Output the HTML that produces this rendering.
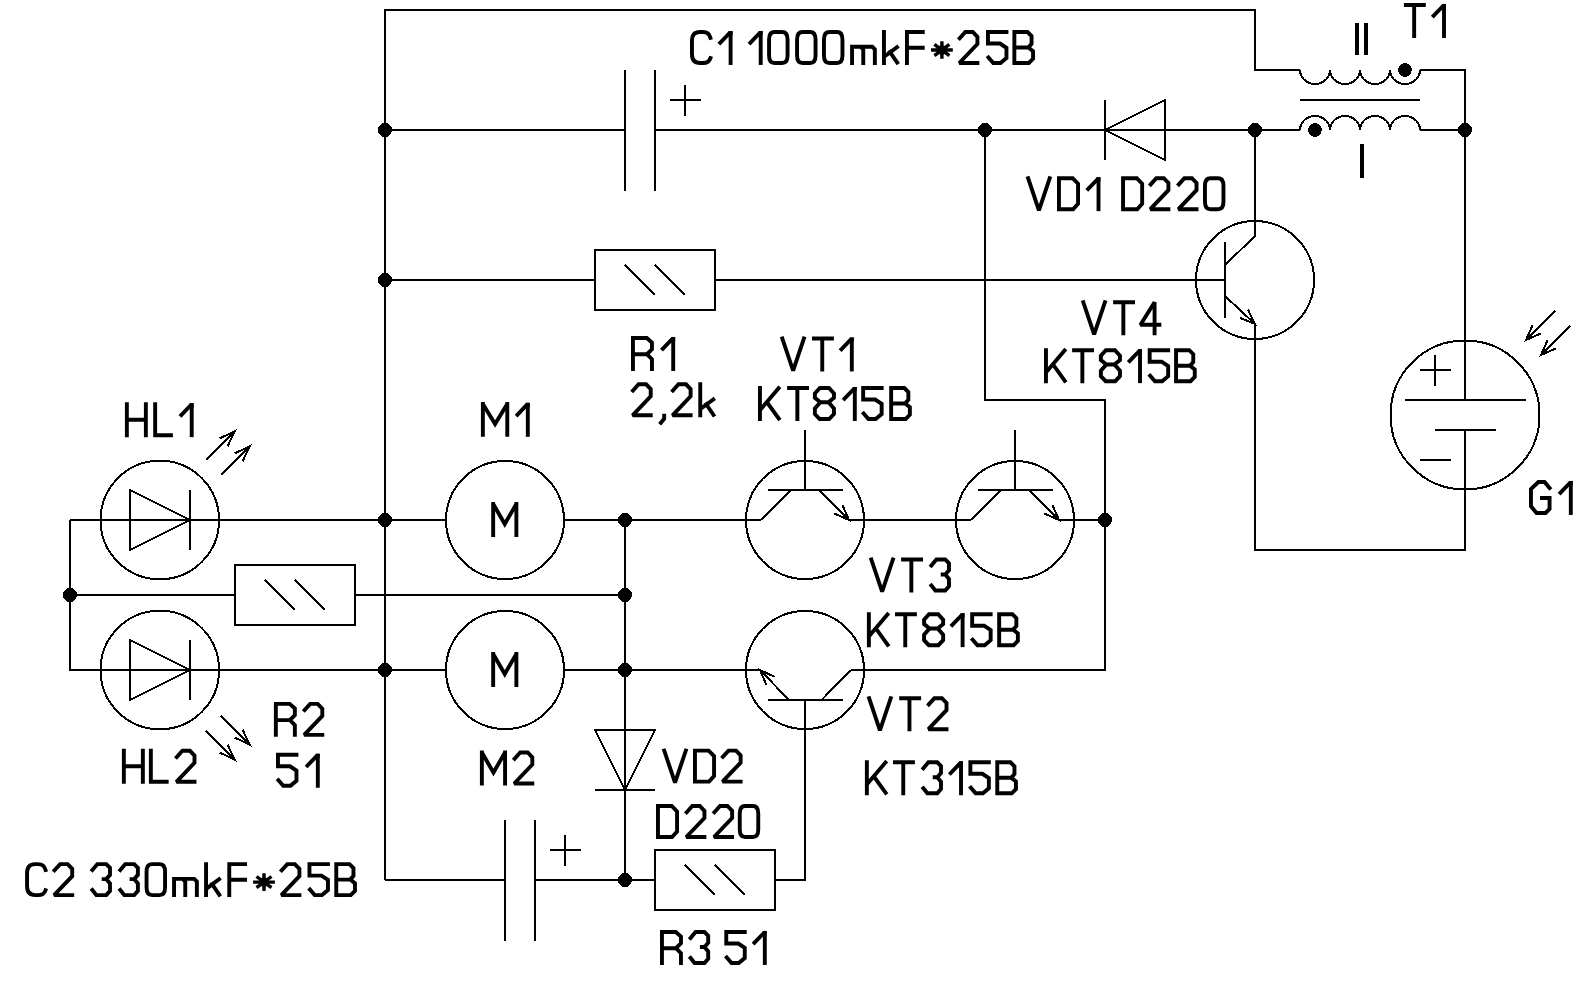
<!DOCTYPE html>
<html><head><meta charset="utf-8"><style>
html,body{margin:0;padding:0;background:#fff;width:1595px;height:983px;overflow:hidden;font-family:"Liberation Sans",sans-serif;}
svg{display:block;}
</style></head><body>
<svg width="1595" height="983" viewBox="0 0 1595 983">
<rect x="0" y="0" width="1595" height="983" fill="#fff"/>
<g fill="none" stroke="#000" stroke-width="2" stroke-linecap="butt" stroke-linejoin="miter" shape-rendering="crispEdges">
<path d="M385,880 L385,10 L1255,10 L1255,70 L1300,70"/>
<path d="M1420,70 L1465,70 L1465,400"/>
<path d="M1465,430 L1465,550 L1255,550 L1255,324"/>
<path d="M385,130 L625,130"/>
<path d="M655,130 L1300,130"/>
<path d="M1420,130 L1465,130"/>
<path d="M1255,130 L1255,236 L1225,265"/>
<path d="M1225,296 L1255,324"/>
<path d="M385,280 L595,280"/>
<path d="M715,280 L1225,280"/>
<path d="M985,130 L985,400 L1105,400 L1105,670 L851,670"/>
<path d="M70,520 L446,520"/>
<path d="M564,520 L761,520"/>
<path d="M849,520 L971,520"/>
<path d="M1059,520 L1105,520"/>
<path d="M70,520 L70,670 L446,670"/>
<path d="M70,595 L235,595"/>
<path d="M355,595 L625,595"/>
<path d="M564,670 L760,670"/>
<path d="M625,520 L625,880"/>
<path d="M385,880 L505,880"/>
<path d="M535,880 L655,880"/>
<path d="M775,880 L805,880 L805,700"/>
<path d="M625,70 L625,191"/>
<path d="M655,70 L655,191"/>
<path d="M670,100 L701,100"/>
<path d="M685,85 L685,116"/>
<path d="M505,820 L505,941"/>
<path d="M535,820 L535,941"/>
<path d="M550,850 L581,850"/>
<path d="M565,835 L565,866"/>
<path d="M1105,100 L1105,160"/>
<path d="M1105,130 L1165,100 L1165,160 Z"/>
<path d="M595,730 L655,730 L625,790 Z"/>
<path d="M595,790 L655,790"/>
<rect x="595" y="250" width="120" height="60"/>
<path d="M625.0,265.0 L655.0,295.0"/>
<path d="M655.0,265.0 L685.0,295.0"/>
<rect x="235" y="565" width="120" height="60"/>
<path d="M265.0,580.0 L295.0,610.0"/>
<path d="M295.0,580.0 L325.0,610.0"/>
<rect x="655" y="850" width="120" height="60"/>
<path d="M685.0,865.0 L715.0,895.0"/>
<path d="M715.0,865.0 L745.0,895.0"/>
<circle cx="159.8" cy="520" r="59.3"/>
<path d="M130,490 L190,520 L130,550 Z"/>
<path d="M190,490 L190,550"/>
<circle cx="159.8" cy="670" r="59.3"/>
<path d="M130,640 L190,670 L130,700 Z"/>
<path d="M190,640 L190,700"/>
<path d="M206,460 L235,431"/>
<path d="M227.55,446.28 L235,431 L219.72,438.45"/>
<path d="M221,475 L250,446"/>
<path d="M242.55,461.28 L250,446 L234.72,453.45"/>
<path d="M221,716 L250,745"/>
<path d="M234.72,737.55 L250,745 L242.55,729.72"/>
<path d="M206,731 L235,760"/>
<path d="M219.72,752.55 L235,760 L227.55,744.72"/>
<circle cx="505" cy="520" r="59"/>
<circle cx="505" cy="670" r="59"/>
<circle cx="805" cy="520" r="59"/>
<path d="M805,430 L805,490"/>
<path d="M767.5,490 L842.5,490"/>
<path d="M791,490 L761,520"/>
<path d="M819,490 L849,520"/>
<path d="M834.38,513.49 L849,520 L842.49,505.38"/>
<circle cx="1015" cy="520" r="59"/>
<path d="M1015,430 L1015,490"/>
<path d="M977.5,490 L1052.5,490"/>
<path d="M1001,490 L971,520"/>
<path d="M1029,490 L1059,520"/>
<path d="M1044.38,513.49 L1059,520 L1052.49,505.38"/>
<circle cx="805" cy="670" r="59"/>
<path d="M767.5,700 L842.5,700"/>
<path d="M789,700 L760,670"/>
<path d="M821.5,700 L851,670"/>
<path d="M774.50,676.75 L760,670 L766.26,684.72"/>
<circle cx="1255" cy="280" r="59"/>
<path d="M1225,242 L1225,318"/>
<path d="M1240.17,318.00 L1255,324 L1247.99,309.62"/>
<circle cx="1465" cy="415" r="74.5"/>
<path d="M1405,400 L1526,400"/>
<path d="M1435,430 L1496,430"/>
<path d="M1420,370 L1451,370"/>
<path d="M1435,355 L1435,386"/>
<path d="M1420,460 L1451,460"/>
<path d="M1555,311 L1526,340"/>
<path d="M1532.51,325.38 L1526,340 L1540.62,333.49"/>
<path d="M1570,326 L1541,355"/>
<path d="M1547.51,340.38 L1541,355 L1555.62,348.49"/>
<path d="M1300,70 A15.0,14 0 0 0 1330,70 A15.0,14 0 0 0 1360,70 A15.0,14 0 0 0 1390,70 A15.0,14 0 0 0 1420,70"/>
<path d="M1300,130 A15.0,14 0 0 1 1330,130 A15.0,14 0 0 1 1360,130 A15.0,14 0 0 1 1390,130 A15.0,14 0 0 1 1420,130"/>
<path d="M1300,100 L1420,100"/>
<circle cx="1405" cy="70" r="6.8" fill="#000" stroke="none"/>
<circle cx="1315" cy="130" r="6.8" fill="#000" stroke="none"/>
<path d="M1357,22.6 L1357,55.3 M1366,22.6 L1366,55.3" stroke-width="3.9"/>
<path d="M1362,144.4 L1362,177.6" stroke-width="3.9"/>
<circle cx="385" cy="130" r="7" fill="#000" stroke="none"/>
<circle cx="985" cy="130" r="7" fill="#000" stroke="none"/>
<circle cx="1255" cy="130" r="7" fill="#000" stroke="none"/>
<circle cx="1465" cy="130" r="7" fill="#000" stroke="none"/>
<circle cx="385" cy="280" r="7" fill="#000" stroke="none"/>
<circle cx="385" cy="520" r="7" fill="#000" stroke="none"/>
<circle cx="625" cy="520" r="7" fill="#000" stroke="none"/>
<circle cx="1105" cy="520" r="7" fill="#000" stroke="none"/>
<circle cx="70" cy="595" r="7" fill="#000" stroke="none"/>
<circle cx="625" cy="595" r="7" fill="#000" stroke="none"/>
<circle cx="385" cy="670" r="7" fill="#000" stroke="none"/>
<circle cx="625" cy="670" r="7" fill="#000" stroke="none"/>
<circle cx="625" cy="880" r="7" fill="#000" stroke="none"/>
</g>
<g fill="none" stroke="#000" stroke-width="3.9" stroke-linecap="square" stroke-linejoin="miter" stroke-miterlimit="2">
<g transform="translate(691.96,32.00)"><path d="M18.5,5.9 Q17,0 11,0 L8,0 Q0,0 0,9 L0,22 Q0,31 8,31 L11,31 Q17,31 18.5,26.1"/></g>
<g transform="translate(718.41,32.00)"><path d="M12.2,31 L12.2,0.9"/><path d="M-0.91,10.85 L10.49,-1.05 L14.15,-1.05 L14.15,3 L10.25,4.85 L1.91,13.55 Z" fill="#000" stroke="none"/></g>
<g transform="translate(748.51,32.00)"><path d="M12.2,31 L12.2,0.9"/><path d="M-0.91,10.85 L10.49,-1.05 L14.15,-1.05 L14.15,3 L10.25,4.85 L1.91,13.55 Z" fill="#000" stroke="none"/></g>
<g transform="translate(769.06,32.00)"><path d="M5.5,0 L13,0 Q18.5,0 18.5,7.5 L18.5,23.5 Q18.5,31 13,31 L5.5,31 Q0,31 0,23.5 L0,7.5 Q0,0 5.5,0 Z"/></g>
<g transform="translate(797.06,32.00)"><path d="M5.5,0 L13,0 Q18.5,0 18.5,7.5 L18.5,23.5 Q18.5,31 13,31 L5.5,31 Q0,31 0,23.5 L0,7.5 Q0,0 5.5,0 Z"/></g>
<g transform="translate(823.96,32.00)"><path d="M5.5,0 L13,0 Q18.5,0 18.5,7.5 L18.5,23.5 Q18.5,31 13,31 L5.5,31 Q0,31 0,23.5 L0,7.5 Q0,0 5.5,0 Z"/></g>
<g transform="translate(852.06,32.00)"><path d="M0,31 L0,14.8 L8.6,14.8 L11.2,17.4 L11.2,31 M11.2,17.4 L11.2,14.8 L20.2,14.8 L22.8,17.4 L22.8,31"/></g>
<g transform="translate(883.96,32.00)"><path d="M0,0 L0,31 M13,15.2 L1.2,24 M6,20 L13.2,30.6"/></g>
<g transform="translate(906.96,32.00)"><path d="M15.8,0 L0,0 L0,31 M0,15.7 L15.8,15.7"/></g>
<g transform="translate(941.90,50.00)"><path d="M0,-8.85 L0,8.85 M-10.9,0 L10.9,0 M-7.5,-5.6 L7.5,5.6 M7.5,-5.6 L-7.5,5.6" stroke-width="3.4" stroke-linecap="butt"/><circle cx="0" cy="0" r="4.8" fill="#000" stroke="none"/></g>
<g transform="translate(959.31,32.00)"><path d="M0.4,6.2 L6,0 L13.5,0 L18.1,4.8 L18.1,12 L0,31 L18.1,31"/></g>
<g transform="translate(987.96,32.00)"><path d="M18.5,0 L0,0 L0,11.5 L12,11.5 L18.5,15.8 L18.5,26 L12.5,31 L5.3,31 L0.5,25.5"/></g>
<g transform="translate(1014.36,32.00)"><path d="M0,31 L0,0 L13.2,0 L17.2,4 L17.2,11.8 L14,15.5 L0,15.5 M14,15.5 L18.7,19.2 L18.7,26.8 L14.5,31 L0,31"/></g>
<g transform="translate(1405.86,5.00)"><path d="M0,0 L18,0 M8.3,0 L8.3,31"/></g>
<g transform="translate(1431.81,5.00)"><path d="M12.2,31 L12.2,0.9"/><path d="M-0.91,10.85 L10.49,-1.05 L14.15,-1.05 L14.15,3 L10.25,4.85 L1.91,13.55 Z" fill="#000" stroke="none"/></g>
<g transform="translate(1028.12,178.20)"><path d="M0,0 L10.8,32.1 L21.6,0"/></g>
<g transform="translate(1058.96,178.20)"><path d="M0,0 L13.7,0 L19.1,5.5 L19.1,25.5 L14.1,31 L0,31 Z"/></g>
<g transform="translate(1086.31,178.20)"><path d="M12.2,31 L12.2,0.9"/><path d="M-0.91,10.85 L10.49,-1.05 L14.15,-1.05 L14.15,3 L10.25,4.85 L1.91,13.55 Z" fill="#000" stroke="none"/></g>
<g transform="translate(1123.06,178.20)"><path d="M0,0 L13.7,0 L19.1,5.5 L19.1,25.5 L14.1,31 L0,31 Z"/></g>
<g transform="translate(1150.31,178.20)"><path d="M0.4,6.2 L6,0 L13.5,0 L18.1,4.8 L18.1,12 L0,31 L18.1,31"/></g>
<g transform="translate(1178.41,178.20)"><path d="M0.4,6.2 L6,0 L13.5,0 L18.1,4.8 L18.1,12 L0,31 L18.1,31"/></g>
<g transform="translate(1204.96,178.20)"><path d="M5.5,0 L13,0 Q18.5,0 18.5,7.5 L18.5,23.5 Q18.5,31 13,31 L5.5,31 Q0,31 0,23.5 L0,7.5 Q0,0 5.5,0 Z"/></g>
<g transform="translate(1083.32,302.30)"><path d="M0,0 L10.8,32.1 L21.6,0"/></g>
<g transform="translate(1115.06,302.30)"><path d="M0,0 L18,0 M8.3,0 L8.3,31"/></g>
<g transform="translate(1140.48,302.30)"><path d="M14.1,31 L14.1,0 L0,22.4 L18.9,22.4"/></g>
<g transform="translate(1045.96,350.20)"><path d="M0,0 L0,31 M18.6,0.3 L1.2,20.8 M7.3,14.6 L18.8,30.6"/></g>
<g transform="translate(1074.06,350.20)"><path d="M0,0 L18,0 M8.3,0 L8.3,31"/></g>
<g transform="translate(1100.86,350.20)"><path d="M5.5,14.3 L13.6,14.3 L19.1,20.5 L19.1,26 L14.3,31 L4.8,31 L0,26 L0,20.5 Z M5.5,14.3 L0,9.8 L0,5.5 L5,0 L14.1,0 L19.1,5.5 L19.1,9.8 L13.6,14.3"/></g>
<g transform="translate(1127.81,350.20)"><path d="M12.2,31 L12.2,0.9"/><path d="M-0.91,10.85 L10.49,-1.05 L14.15,-1.05 L14.15,3 L10.25,4.85 L1.91,13.55 Z" fill="#000" stroke="none"/></g>
<g transform="translate(1149.66,350.20)"><path d="M18.5,0 L0,0 L0,11.5 L12,11.5 L18.5,15.8 L18.5,26 L12.5,31 L5.3,31 L0.5,25.5"/></g>
<g transform="translate(1176.06,350.20)"><path d="M0,31 L0,0 L13.2,0 L17.2,4 L17.2,11.8 L14,15.5 L0,15.5 M14,15.5 L18.7,19.2 L18.7,26.8 L14.5,31 L0,31"/></g>
<g transform="translate(632.96,338.00)"><path d="M0,31 L0,0 L13.8,0 L19,4.6 L19,11.3 L14,16.2 L0,16.2 M14,16.2 L19,21.2 L19,31"/></g>
<g transform="translate(661.01,338.00)"><path d="M12.2,31 L12.2,0.9"/><path d="M-0.91,10.85 L10.49,-1.05 L14.15,-1.05 L14.15,3 L10.25,4.85 L1.91,13.55 Z" fill="#000" stroke="none"/></g>
<g transform="translate(632.61,384.30)"><path d="M0.4,6.2 L6,0 L13.5,0 L18.1,4.8 L18.1,12 L0,31 L18.1,31"/></g>
<g transform="translate(660.68,384.30)"><path d="M3.5,31.5 L3.5,34.5 L0.2,38.5"/></g>
<g transform="translate(672.51,384.30)"><path d="M0.4,6.2 L6,0 L13.5,0 L18.1,4.8 L18.1,12 L0,31 L18.1,31"/></g>
<g transform="translate(700.26,384.30)"><path d="M0,0 L0,31 M13,15.2 L1.2,24 M6,20 L13.2,30.6"/></g>
<g transform="translate(782.32,338.50)"><path d="M0,0 L10.8,32.1 L21.6,0"/></g>
<g transform="translate(813.96,338.50)"><path d="M0,0 L18,0 M8.3,0 L8.3,31"/></g>
<g transform="translate(839.61,338.50)"><path d="M12.2,31 L12.2,0.9"/><path d="M-0.91,10.85 L10.49,-1.05 L14.15,-1.05 L14.15,3 L10.25,4.85 L1.91,13.55 Z" fill="#000" stroke="none"/></g>
<g transform="translate(759.96,388.00)"><path d="M0,0 L0,31 M18.6,0.3 L1.2,20.8 M7.3,14.6 L18.8,30.6"/></g>
<g transform="translate(789.06,388.00)"><path d="M0,0 L18,0 M8.3,0 L8.3,31"/></g>
<g transform="translate(814.86,388.00)"><path d="M5.5,14.3 L13.6,14.3 L19.1,20.5 L19.1,26 L14.3,31 L4.8,31 L0,26 L0,20.5 Z M5.5,14.3 L0,9.8 L0,5.5 L5,0 L14.1,0 L19.1,5.5 L19.1,9.8 L13.6,14.3"/></g>
<g transform="translate(842.61,388.00)"><path d="M12.2,31 L12.2,0.9"/><path d="M-0.91,10.85 L10.49,-1.05 L14.15,-1.05 L14.15,3 L10.25,4.85 L1.91,13.55 Z" fill="#000" stroke="none"/></g>
<g transform="translate(863.16,388.00)"><path d="M18.5,0 L0,0 L0,11.5 L12,11.5 L18.5,15.8 L18.5,26 L12.5,31 L5.3,31 L0.5,25.5"/></g>
<g transform="translate(891.16,388.00)"><path d="M0,31 L0,0 L13.2,0 L17.2,4 L17.2,11.8 L14,15.5 L0,15.5 M14,15.5 L18.7,19.2 L18.7,26.8 L14.5,31 L0,31"/></g>
<g transform="translate(126.86,404.20)"><path d="M0,0 L0,31 M19,0 L19,31 M0,15.5 L19,15.5"/></g>
<g transform="translate(155.16,404.20)"><path d="M0,0 L0,31 L15.8,31"/></g>
<g transform="translate(179.51,404.20)"><path d="M12.2,31 L12.2,0.9"/><path d="M-0.91,10.85 L10.49,-1.05 L14.15,-1.05 L14.15,3 L10.25,4.85 L1.91,13.55 Z" fill="#000" stroke="none"/></g>
<g transform="translate(482.87,403.90)"><path d="M0,31 L0,0 M24.4,31 L24.4,0 M0.6,1 L12.2,20 L23.8,1"/></g>
<g transform="translate(515.61,403.90)"><path d="M12.2,31 L12.2,0.9"/><path d="M-0.91,10.85 L10.49,-1.05 L14.15,-1.05 L14.15,3 L10.25,4.85 L1.91,13.55 Z" fill="#000" stroke="none"/></g>
<g transform="translate(493.17,504.00)"><path d="M0,31 L0,0 M23.2,31 L23.2,0 M0.6,1 L11.6,20 L22.6,1"/></g>
<g transform="translate(493.17,654.00)"><path d="M0,31 L0,0 M23.2,31 L23.2,0 M0.6,1 L11.6,20 L22.6,1"/></g>
<g transform="translate(1530.96,482.00)"><path d="M18.6,6 L13.6,0 L7.4,0 L0,7 L0,24.3 L5.6,31 L14.6,31 L18.6,27 L18.6,16 L11,16"/></g>
<g transform="translate(1558.61,482.00)"><path d="M12.2,31 L12.2,0.9"/><path d="M-0.91,10.85 L10.49,-1.05 L14.15,-1.05 L14.15,3 L10.25,4.85 L1.91,13.55 Z" fill="#000" stroke="none"/></g>
<g transform="translate(871.32,559.50)"><path d="M0,0 L10.8,32.1 L21.6,0"/></g>
<g transform="translate(903.06,559.50)"><path d="M0,0 L18,0 M8.3,0 L8.3,31"/></g>
<g transform="translate(931.38,559.50)"><path d="M0,6 L5,0 L13.9,0 L17.6,3.8 L17.6,10.8 L13.9,15 L11.3,15 M13.9,15 L17.6,19.4 L17.6,26.8 L13.9,31 L4,31 L0,26"/></g>
<g transform="translate(868.86,614.20)"><path d="M0,0 L0,31 M18.6,0.3 L1.2,20.8 M7.3,14.6 L18.8,30.6"/></g>
<g transform="translate(896.96,614.20)"><path d="M0,0 L18,0 M8.3,0 L8.3,31"/></g>
<g transform="translate(924.06,614.20)"><path d="M5.5,14.3 L13.6,14.3 L19.1,20.5 L19.1,26 L14.3,31 L4.8,31 L0,26 L0,20.5 Z M5.5,14.3 L0,9.8 L0,5.5 L5,0 L14.1,0 L19.1,5.5 L19.1,9.8 L13.6,14.3"/></g>
<g transform="translate(950.41,614.20)"><path d="M12.2,31 L12.2,0.9"/><path d="M-0.91,10.85 L10.49,-1.05 L14.15,-1.05 L14.15,3 L10.25,4.85 L1.91,13.55 Z" fill="#000" stroke="none"/></g>
<g transform="translate(972.16,614.20)"><path d="M18.5,0 L0,0 L0,11.5 L12,11.5 L18.5,15.8 L18.5,26 L12.5,31 L5.3,31 L0.5,25.5"/></g>
<g transform="translate(999.16,614.20)"><path d="M0,31 L0,0 L13.2,0 L17.2,4 L17.2,11.8 L14,15.5 L0,15.5 M14,15.5 L18.7,19.2 L18.7,26.8 L14.5,31 L0,31"/></g>
<g transform="translate(869.12,698.20)"><path d="M0,0 L10.8,32.1 L21.6,0"/></g>
<g transform="translate(901.16,698.20)"><path d="M0,0 L18,0 M8.3,0 L8.3,31"/></g>
<g transform="translate(928.41,698.20)"><path d="M0.4,6.2 L6,0 L13.5,0 L18.1,4.8 L18.1,12 L0,31 L18.1,31"/></g>
<g transform="translate(866.86,762.30)"><path d="M0,0 L0,31 M18.6,0.3 L1.2,20.8 M7.3,14.6 L18.8,30.6"/></g>
<g transform="translate(894.96,762.30)"><path d="M0,0 L18,0 M8.3,0 L8.3,31"/></g>
<g transform="translate(923.38,762.30)"><path d="M0,6 L5,0 L13.9,0 L17.6,3.8 L17.6,10.8 L13.9,15 L11.3,15 M13.9,15 L17.6,19.4 L17.6,26.8 L13.9,31 L4,31 L0,26"/></g>
<g transform="translate(948.81,762.30)"><path d="M12.2,31 L12.2,0.9"/><path d="M-0.91,10.85 L10.49,-1.05 L14.15,-1.05 L14.15,3 L10.25,4.85 L1.91,13.55 Z" fill="#000" stroke="none"/></g>
<g transform="translate(970.36,762.30)"><path d="M18.5,0 L0,0 L0,11.5 L12,11.5 L18.5,15.8 L18.5,26 L12.5,31 L5.3,31 L0.5,25.5"/></g>
<g transform="translate(997.26,762.30)"><path d="M0,31 L0,0 L13.2,0 L17.2,4 L17.2,11.8 L14,15.5 L0,15.5 M14,15.5 L18.7,19.2 L18.7,26.8 L14.5,31 L0,31"/></g>
<g transform="translate(275.86,703.90)"><path d="M0,31 L0,0 L13.8,0 L19,4.6 L19,11.3 L14,16.2 L0,16.2 M14,16.2 L19,21.2 L19,31"/></g>
<g transform="translate(304.21,703.90)"><path d="M0.4,6.2 L6,0 L13.5,0 L18.1,4.8 L18.1,12 L0,31 L18.1,31"/></g>
<g transform="translate(277.96,754.80)"><path d="M18.5,0 L0,0 L0,11.5 L12,11.5 L18.5,15.8 L18.5,26 L12.5,31 L5.3,31 L0.5,25.5"/></g>
<g transform="translate(305.61,754.80)"><path d="M12.2,31 L12.2,0.9"/><path d="M-0.91,10.85 L10.49,-1.05 L14.15,-1.05 L14.15,3 L10.25,4.85 L1.91,13.55 Z" fill="#000" stroke="none"/></g>
<g transform="translate(123.86,750.80)"><path d="M0,0 L0,31 M19,0 L19,31 M0,15.5 L19,15.5"/></g>
<g transform="translate(150.86,750.80)"><path d="M0,0 L0,31 L15.8,31"/></g>
<g transform="translate(176.41,750.80)"><path d="M0.4,6.2 L6,0 L13.5,0 L18.1,4.8 L18.1,12 L0,31 L18.1,31"/></g>
<g transform="translate(481.87,752.50)"><path d="M0,31 L0,0 M23.2,31 L23.2,0 M0.6,1 L11.6,20 L22.6,1"/></g>
<g transform="translate(514.21,752.50)"><path d="M0.4,6.2 L6,0 L13.5,0 L18.1,4.8 L18.1,12 L0,31 L18.1,31"/></g>
<g transform="translate(664.22,750.60)"><path d="M0,0 L10.8,32.1 L21.6,0"/></g>
<g transform="translate(694.96,750.60)"><path d="M0,0 L13.7,0 L19.1,5.5 L19.1,25.5 L14.1,31 L0,31 Z"/></g>
<g transform="translate(722.51,750.60)"><path d="M0.4,6.2 L6,0 L13.5,0 L18.1,4.8 L18.1,12 L0,31 L18.1,31"/></g>
<g transform="translate(657.96,806.00)"><path d="M0,0 L13.7,0 L19.1,5.5 L19.1,25.5 L14.1,31 L0,31 Z"/></g>
<g transform="translate(686.31,806.00)"><path d="M0.4,6.2 L6,0 L13.5,0 L18.1,4.8 L18.1,12 L0,31 L18.1,31"/></g>
<g transform="translate(714.01,806.00)"><path d="M0.4,6.2 L6,0 L13.5,0 L18.1,4.8 L18.1,12 L0,31 L18.1,31"/></g>
<g transform="translate(739.76,806.00)"><path d="M5.5,0 L13,0 Q18.5,0 18.5,7.5 L18.5,23.5 Q18.5,31 13,31 L5.5,31 Q0,31 0,23.5 L0,7.5 Q0,0 5.5,0 Z"/></g>
<g transform="translate(27.06,864.10)"><path d="M18.5,5.9 Q17,0 11,0 L8,0 Q0,0 0,9 L0,22 Q0,31 8,31 L11,31 Q17,31 18.5,26.1"/></g>
<g transform="translate(54.11,864.10)"><path d="M0.4,6.2 L6,0 L13.5,0 L18.1,4.8 L18.1,12 L0,31 L18.1,31"/></g>
<g transform="translate(92.38,864.10)"><path d="M0,6 L5,0 L13.9,0 L17.6,3.8 L17.6,10.8 L13.9,15 L11.3,15 M13.9,15 L17.6,19.4 L17.6,26.8 L13.9,31 L4,31 L0,26"/></g>
<g transform="translate(120.28,864.10)"><path d="M0,6 L5,0 L13.9,0 L17.6,3.8 L17.6,10.8 L13.9,15 L11.3,15 M13.9,15 L17.6,19.4 L17.6,26.8 L13.9,31 L4,31 L0,26"/></g>
<g transform="translate(146.56,864.10)"><path d="M5.5,0 L13,0 Q18.5,0 18.5,7.5 L18.5,23.5 Q18.5,31 13,31 L5.5,31 Q0,31 0,23.5 L0,7.5 Q0,0 5.5,0 Z"/></g>
<g transform="translate(174.06,864.10)"><path d="M0,31 L0,14.8 L8.6,14.8 L11.2,17.4 L11.2,31 M11.2,17.4 L11.2,14.8 L20.2,14.8 L22.8,17.4 L22.8,31"/></g>
<g transform="translate(206.06,864.10)"><path d="M0,0 L0,31 M13,15.2 L1.2,24 M6,20 L13.2,30.6"/></g>
<g transform="translate(229.26,864.10)"><path d="M15.8,0 L0,0 L0,31 M0,15.7 L15.8,15.7"/></g>
<g transform="translate(264.00,882.10)"><path d="M0,-8.85 L0,8.85 M-10.9,0 L10.9,0 M-7.5,-5.6 L7.5,5.6 M7.5,-5.6 L-7.5,5.6" stroke-width="3.4" stroke-linecap="butt"/><circle cx="0" cy="0" r="4.8" fill="#000" stroke="none"/></g>
<g transform="translate(281.31,864.10)"><path d="M0.4,6.2 L6,0 L13.5,0 L18.1,4.8 L18.1,12 L0,31 L18.1,31"/></g>
<g transform="translate(309.46,864.10)"><path d="M18.5,0 L0,0 L0,11.5 L12,11.5 L18.5,15.8 L18.5,26 L12.5,31 L5.3,31 L0.5,25.5"/></g>
<g transform="translate(336.26,864.10)"><path d="M0,31 L0,0 L13.2,0 L17.2,4 L17.2,11.8 L14,15.5 L0,15.5 M14,15.5 L18.7,19.2 L18.7,26.8 L14.5,31 L0,31"/></g>
<g transform="translate(661.96,932.00)"><path d="M0,31 L0,0 L13.8,0 L19,4.6 L19,11.3 L14,16.2 L0,16.2 M14,16.2 L19,21.2 L19,31"/></g>
<g transform="translate(690.58,932.00)"><path d="M0,6 L5,0 L13.9,0 L17.6,3.8 L17.6,10.8 L13.9,15 L11.3,15 M13.9,15 L17.6,19.4 L17.6,26.8 L13.9,31 L4,31 L0,26"/></g>
<g transform="translate(726.26,932.00)"><path d="M18.5,0 L0,0 L0,11.5 L12,11.5 L18.5,15.8 L18.5,26 L12.5,31 L5.3,31 L0.5,25.5"/></g>
<g transform="translate(752.61,932.00)"><path d="M12.2,31 L12.2,0.9"/><path d="M-0.91,10.85 L10.49,-1.05 L14.15,-1.05 L14.15,3 L10.25,4.85 L1.91,13.55 Z" fill="#000" stroke="none"/></g>
</g>
</svg>
</body></html>
